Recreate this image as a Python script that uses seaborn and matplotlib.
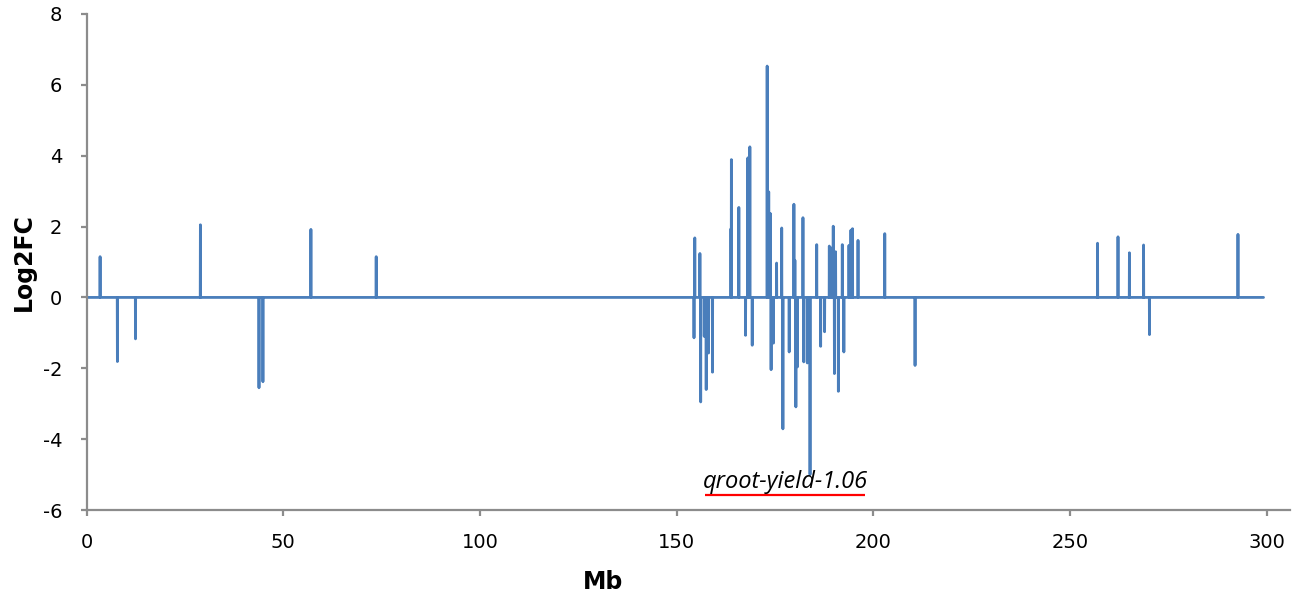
import matplotlib
matplotlib.use("Agg")
import matplotlib.pyplot as plt
import seaborn as sns
import pandas as pd

# ---- data ----
chrom_start_mb = 0.0
chrom_end_mb = 299.2

spike_mb = [3.4, 7.8, 12.4, 28.9, 43.8, 44.8, 57.0, 73.6,
            154.4, 154.6, 155.9, 156.1, 157.0, 157.5, 158.1, 159.1,
            163.8, 163.9, 165.8, 167.5, 168.1, 168.6, 169.2,
            173.0, 173.4, 173.8, 174.0, 174.6, 175.4, 176.7, 177.0,
            178.6, 179.8, 180.05, 180.3, 180.7, 182.1, 182.3, 183.2,
            183.9, 185.6, 186.6, 187.6, 188.8, 189.2, 189.8, 190.1,
            190.4, 191.1, 192.1, 192.5, 193.8, 194.3, 194.7, 196.1,
            202.9, 210.6, 257.0, 262.2, 265.1, 268.7, 270.2, 292.7]
spike_lfc = [1.15, -1.81, -1.17, 2.05, -2.55, -2.38, 1.92, 1.15,
             -1.14, 1.68, 1.24, -2.95, -1.10, -2.60, -1.57, -2.11,
             1.94, 3.89, 2.54, -1.07, 3.94, 4.25, -1.35,
             6.53, 2.98, 2.37, -2.04, -1.29, 0.97, 1.96, -3.71,
             -1.54, 2.63, 1.05, -3.09, -1.96, 2.25, -1.82, -1.85,
             -5.0, 1.49, -1.38, -0.97, 1.45, 1.40, 2.01, -2.15,
             1.29, -2.65, 1.49, -1.54, 1.47, 1.90, 1.94, 1.61,
             1.80, -1.92, 1.53, 1.71, 1.26, 1.48, -1.05, 1.78]

qtl_label = "qroot-yield-1.06"
qtl_start_mb = 157.2
qtl_end_mb = 197.9

x_ticks = [0, 50, 100, 150, 200, 250, 300]
y_ticks = [-6, -4, -2, 0, 2, 4, 6, 8]

# ---- build the line series: baseline 0 between the gene spikes ----
d = 0.04
xs, ys = [chrom_start_mb], [0.0]
for p, v in zip(spike_mb, spike_lfc):
    xs += [p - d, p, p + d]
    ys += [0.0, v, 0.0]
xs.append(chrom_end_mb)
ys.append(0.0)
df = pd.DataFrame({"Mb": xs, "Log2FC": ys})

# ---- plot ----
sns.set_style("ticks")
plt.rcParams["font.family"] = ["DejaVu Sans"]
plt.rcParams["axes.unicode_minus"] = False
plt.rcParams["text.color"] = "black"
plt.rcParams["axes.labelcolor"] = "black"

fig = plt.figure(figsize=(13.02, 6.0), dpi=100)
ax = fig.add_axes([0.0666, 0.15, 0.9244, 0.8267])

sns.lineplot(data=df, x="Mb", y="Log2FC", sort=False, estimator=None,
             color="#4a7ebb", linewidth=2.0, ax=ax)

ax.set_xlim(0, 306)
ax.set_ylim(-6, 8)
ax.set_xticks(x_ticks)
ax.set_yticks(y_ticks)
ax.set_xticklabels([str(t) for t in x_ticks])
ax.set_yticklabels([str(t) for t in y_ticks])

for s in ["top", "right"]:
    ax.spines[s].set_visible(False)
for s in ["left", "bottom"]:
    ax.spines[s].set_color("#8c8c8c")
    ax.spines[s].set_linewidth(1.6)
ax.tick_params(axis="both", colors="#8c8c8c", width=1.6, length=4.5,
               labelcolor="black", labelsize=14)
ax.tick_params(axis="y", pad=13)
ax.tick_params(axis="x", pad=12)

ax.set_xlabel("Mb", fontsize=17, fontweight="bold", color="black")
ax.set_ylabel("Log2FC", fontsize=17, fontweight="bold", color="black")
ax.xaxis.set_label_coords(0.429, -0.12)
ax.yaxis.set_label_coords(-0.042, 0.5)

# QTL annotation
ax.text((qtl_start_mb + qtl_end_mb) / 2, -5.38, qtl_label, ha="center",
        va="baseline", fontsize=17, style="italic", color="black",
        family=["Open Sans", "DejaVu Sans"])
ax.plot([qtl_start_mb, qtl_end_mb], [-5.58, -5.58], color="red", linewidth=1.6,
        solid_capstyle="butt")

fig.savefig("out.png", dpi=100, facecolor="white")
